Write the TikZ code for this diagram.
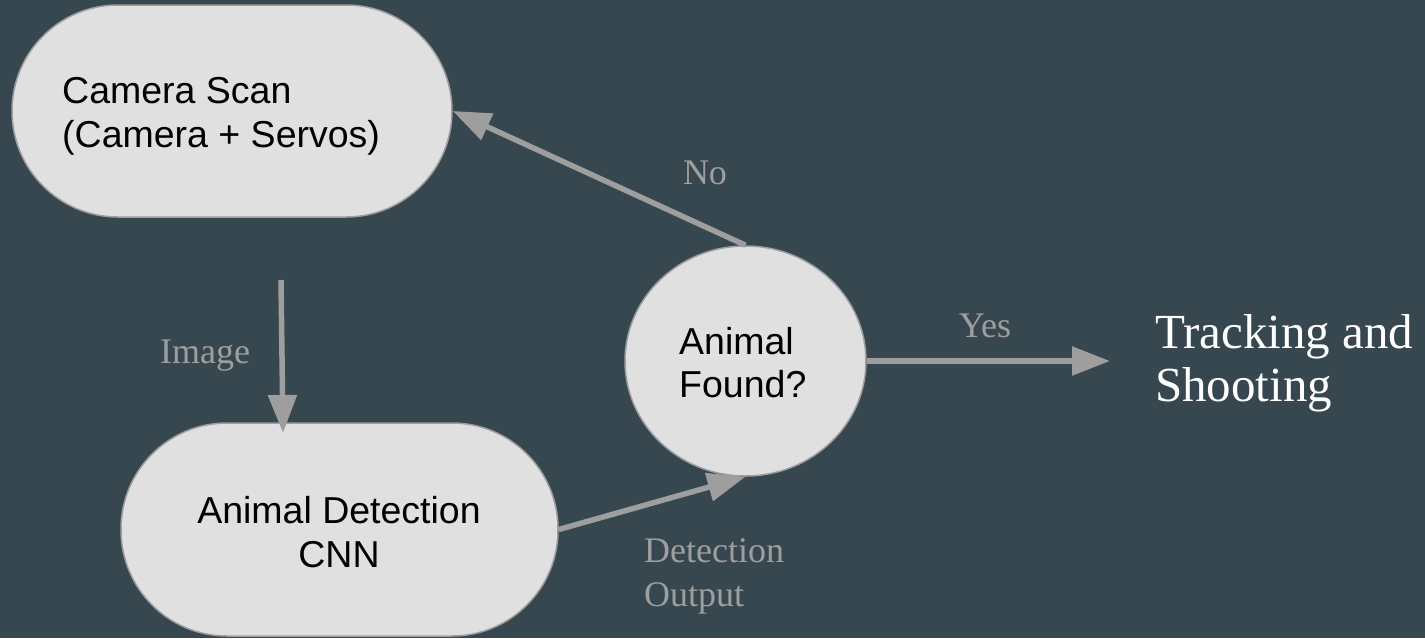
\documentclass[tikz,border=0pt]{standalone}
\usepackage{fontspec}
\setmainfont{Liberation Serif}
\newfontfamily\arialf{Liberation Sans}
\usetikzlibrary{arrows.meta,shapes.geometric}
\definecolor{bg}{HTML}{37474F}
\definecolor{shapefill}{HTML}{E0E0E0}
\definecolor{edgecol}{HTML}{9E9E9E}
\definecolor{lblcol}{HTML}{9E9E9E}
\tikzset{
  proc/.style={draw=edgecol, line width=1.5pt, fill=shapefill, rectangle, rounded corners=106pt, inner sep=0pt},
  decis/.style={draw=edgecol, line width=1.5pt, fill=shapefill, ellipse, inner sep=0pt},
  flow/.style={draw=edgecol, line width=5.5pt, -{Triangle[length=38pt,width=28pt]}},
  boxtext/.style={inner sep=0pt, text=black, font=\arialf\fontsize{37.5}{44}\selectfont},
  edgelbl/.style={inner sep=0pt, text=lblcol, font=\fontsize{36}{44}\selectfont},
}
\begin{document}
\begin{tikzpicture}[x=1pt,y=-1pt]
\fill[bg] (0,0) rectangle (1425,638);
\useasboundingbox (0,0) rectangle (1425,638);

% shapes
\node[proc, minimum width=440pt, minimum height=212pt] (cam) at (232,111) {};
\node[proc, minimum width=437pt, minimum height=213pt] (det) at (339.5,529.5) {};
\node[decis, minimum width=241pt, minimum height=230pt] (nf) at (745.5,361) {};

% texts in shapes
\node[boxtext, anchor=base west] (camtxt) at (62,103)
  {\begin{tabular}[t]{@{}l@{}}Camera Scan\\(Camera + Servos)\end{tabular}};
\node[boxtext, anchor=base] (dettxt) at (339,523)
  {\begin{tabular}[t]{@{}c@{}}Animal Detection\\CNN\end{tabular}};
\node[boxtext, anchor=base west, font=\arialf\fontsize{37.5}{43}\selectfont] (nftxt) at (679,354)
  {\begin{tabular}[t]{@{}l@{}}Animal\\Found?\end{tabular}};

% outcome text
\node[inner sep=0pt, anchor=base west, text=white, font=\fontsize{49}{53}\selectfont] (track) at (1155,348)
  {\begin{tabular}[t]{@{}l@{}}Tracking and\\Shooting\end{tabular}};

% connectors
\coordinate (imgstart) at (281,280);
\coordinate (imgend) at (283,433);
\coordinate (yesend) at (1110,361);
\draw[flow] (imgstart) -- (imgend);
\draw[flow] (nf.north) -- (cam.east);
\draw[flow] (det.east) -- (nf.south);
\draw[flow] (nf.east) -- (yesend);

% connector labels
\node[edgelbl, anchor=base] (lblimg) at (205,363) {Image};
\node[edgelbl, anchor=base] (lblno) at (705,184) {No};
\node[edgelbl, anchor=base] (lblyes) at (985,337) {Yes};
\node[edgelbl, anchor=base west] (lbldet) at (644,562)
  {\begin{tabular}[t]{@{}l@{}}Detection\\Output\end{tabular}};
\end{tikzpicture}
\end{document}
